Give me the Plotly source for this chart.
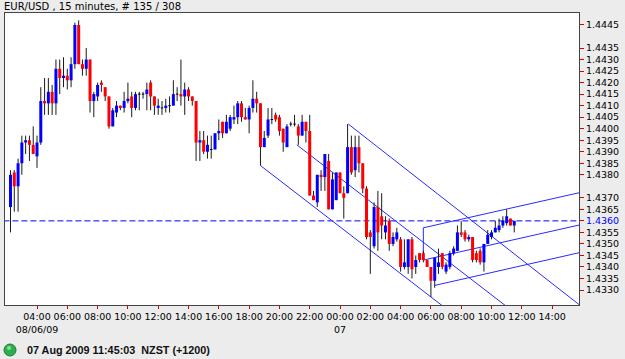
import plotly.graph_objects as go
import pandas as pd

# ---------------- data ----------------
start_time = "2009-08-06 02:15"
opens = [1.4366, 1.4381, 1.4375, 1.4385, 1.4394, 1.4395, 1.4393, 1.4388, 1.4394, 1.4412,
         1.4411, 1.4416, 1.4411, 1.4426, 1.4422, 1.4423, 1.4421, 1.4428, 1.4445, 1.4428,
         1.4426, 1.4430, 1.4412, 1.4414, 1.4420, 1.4418, 1.4414, 1.4401, 1.4407, 1.4410,
         1.4409, 1.4412, 1.4414, 1.4409, 1.4415, 1.4415, 1.4415, 1.4420, 1.4414, 1.4409,
         1.4409, 1.4409, 1.4410, 1.4410, 1.4415, 1.4415, 1.4414, 1.4417, 1.4414, 1.4412,
         1.4394, 1.4395, 1.4390, 1.4391, 1.4391, 1.4398, 1.4403, 1.4398, 1.4400, 1.4404,
         1.4405, 1.4411, 1.4405, 1.4404, 1.4409, 1.4413, 1.4411, 1.4392, 1.4397, 1.4404,
         1.4406, 1.4405, 1.4400, 1.4392, 1.4402, 1.4402, 1.4401, 1.4397, 1.4403, 1.4399,
         1.4371, 1.4368, 1.4380, 1.4379, 1.4386, 1.4365, 1.4369, 1.4381, 1.4372, 1.4372,
         1.4392, 1.4382, 1.4392, 1.4385, 1.4374, 1.4355, 1.4349, 1.4366, 1.4362, 1.4355,
         1.4360, 1.4350, 1.4352, 1.4352, 1.4340, 1.4340, 1.4352, 1.4340, 1.4346, 1.4346,
         1.4343, 1.4340, 1.4334, 1.4340, 1.4346, 1.4338, 1.4340, 1.4346, 1.4347, 1.4355,
         1.4355, 1.4352, 1.4353, 1.4346, 1.4347, 1.4342, 1.4350, 1.4353, 1.4355, 1.4356,
         1.4358, 1.4359, 1.4361, 1.4358]
highs = [1.4382, 1.4382, 1.4387, 1.4397, 1.4397, 1.4397, 1.4401, 1.4397, 1.4418, 1.4422,
         1.4422, 1.4419, 1.4430, 1.4430, 1.4431, 1.4426, 1.4431, 1.4446, 1.4447, 1.4430,
         1.4435, 1.4430, 1.4416, 1.4420, 1.4421, 1.4418, 1.4414, 1.4409, 1.4412, 1.4410,
         1.4416, 1.4420, 1.4416, 1.4416, 1.4416, 1.4416, 1.4420, 1.4421, 1.4414, 1.4413,
         1.4412, 1.4413, 1.4414, 1.4421, 1.4418, 1.4430, 1.4420, 1.4418, 1.4414, 1.4412,
         1.4399, 1.4399, 1.4397, 1.4397, 1.4398, 1.4404, 1.4403, 1.4406, 1.4406, 1.4410,
         1.4412, 1.4412, 1.4409, 1.4410, 1.4421, 1.4416, 1.4411, 1.4399, 1.4409, 1.4409,
         1.4407, 1.4406, 1.4400, 1.4402, 1.4403, 1.4406, 1.4402, 1.4406, 1.4403, 1.4406,
         1.4373, 1.4380, 1.4382, 1.4389, 1.4389, 1.4381, 1.4381, 1.4381, 1.4375, 1.4402,
         1.4397, 1.4397, 1.4397, 1.4385, 1.4375, 1.4356, 1.4368, 1.4373, 1.4372, 1.4362,
         1.4361, 1.4355, 1.4357, 1.4353, 1.4352, 1.4352, 1.4353, 1.4345, 1.4346, 1.4347,
         1.4343, 1.4340, 1.4344, 1.4348, 1.4346, 1.4342, 1.4347, 1.4349, 1.4358, 1.4360,
         1.4356, 1.4354, 1.4353, 1.4347, 1.4348, 1.4350, 1.4356, 1.4356, 1.4360, 1.4361,
         1.4362, 1.4365, 1.4361, 1.4360]
lows = [1.4355, 1.4364, 1.4364, 1.4380, 1.4389, 1.4386, 1.4389, 1.4383, 1.4393, 1.4406,
        1.4406, 1.4406, 1.4406, 1.4415, 1.4418, 1.4417, 1.4418, 1.4426, 1.4428, 1.4423,
        1.4423, 1.4407, 1.4405, 1.4412, 1.4416, 1.4412, 1.4400, 1.4401, 1.4405, 1.4408,
        1.4407, 1.4411, 1.4405, 1.4408, 1.4408, 1.4413, 1.4408, 1.4408, 1.4406, 1.4406,
        1.4406, 1.4407, 1.4407, 1.4410, 1.4412, 1.4410, 1.4406, 1.4412, 1.4410, 1.4386,
        1.4386, 1.4389, 1.4387, 1.4387, 1.4391, 1.4395, 1.4396, 1.4398, 1.4399, 1.4402,
        1.4402, 1.4403, 1.4404, 1.4398, 1.4407, 1.4407, 1.4384, 1.4392, 1.4396, 1.4402,
        1.4403, 1.4397, 1.4390, 1.4392, 1.4401, 1.4401, 1.4393, 1.4397, 1.4394, 1.4371,
        1.4369, 1.4366, 1.4373, 1.4373, 1.4365, 1.4365, 1.4369, 1.4372, 1.4361, 1.4372,
        1.4380, 1.4379, 1.4381, 1.4372, 1.4352, 1.4337, 1.4348, 1.4347, 1.4352, 1.4352,
        1.4347, 1.4349, 1.4351, 1.4338, 1.4339, 1.4337, 1.4335, 1.4337, 1.4342, 1.4342,
        1.4340, 1.4327, 1.4331, 1.4337, 1.4339, 1.4337, 1.4339, 1.4345, 1.4347, 1.4353,
        1.4351, 1.4351, 1.4342, 1.4342, 1.4341, 1.4338, 1.4350, 1.4352, 1.4355, 1.4355,
        1.4357, 1.4358, 1.4358, 1.4355]
closes = [1.4380, 1.4375, 1.4385, 1.4394, 1.4395, 1.4393, 1.4389, 1.4394, 1.4412, 1.4411,
          1.4416, 1.4411, 1.4426, 1.4422, 1.4423, 1.4421, 1.4428, 1.4445, 1.4428, 1.4426,
          1.4430, 1.4412, 1.4415, 1.4419, 1.4419, 1.4414, 1.4401, 1.4408, 1.4410, 1.4409,
          1.4412, 1.4413, 1.4409, 1.4415, 1.4415, 1.4415, 1.4417, 1.4414, 1.4410, 1.4410,
          1.4409, 1.4410, 1.4410, 1.4415, 1.4415, 1.4414, 1.4417, 1.4414, 1.4412, 1.4394,
          1.4395, 1.4390, 1.4393, 1.4391, 1.4398, 1.4399, 1.4398, 1.4403, 1.4405, 1.4405,
          1.4411, 1.4405, 1.4404, 1.4409, 1.4413, 1.4411, 1.4392, 1.4396, 1.4404, 1.4404,
          1.4404, 1.4399, 1.4394, 1.4401, 1.4402, 1.4402, 1.4397, 1.4403, 1.4399, 1.4371,
          1.4369, 1.4380, 1.4379, 1.4389, 1.4365, 1.4378, 1.4381, 1.4372, 1.4370, 1.4392,
          1.4381, 1.4392, 1.4385, 1.4374, 1.4353, 1.4353, 1.4366, 1.4355, 1.4358, 1.4358,
          1.4350, 1.4353, 1.4355, 1.4340, 1.4342, 1.4352, 1.4339, 1.4343, 1.4343, 1.4343,
          1.4340, 1.4334, 1.4344, 1.4342, 1.4340, 1.4341, 1.4346, 1.4348, 1.4355, 1.4354,
          1.4352, 1.4353, 1.4343, 1.4343, 1.4342, 1.4350, 1.4354, 1.4355, 1.4357, 1.4358,
          1.4360, 1.4362, 1.4358, 1.4360]

bid_price = 1.4360

# drawn trend channels (start/end time and price)
down_t0 = ["2009-08-06 18:45", "2009-08-06 21:09", "2009-08-07 00:33"]
down_p0 = [1.4384, 1.4393, 1.4402]
down_t1 = ["2009-08-07 09:45", "2009-08-07 12:09", "2009-08-07 18:03"]
down_p1 = [1.4308, 1.4317, 1.4312]
up_t0 = ["2009-08-07 05:30", "2009-08-07 05:30", "2009-08-07 06:15"]
up_p0 = [1.4357, 1.4343, 1.4332]
up_t1 = ["2009-08-07 17:00", "2009-08-07 17:00", "2009-08-07 17:00"]
up_p1 = [1.4374, 1.4360, 1.4348]

y_ticks = [1.4445, 1.4435, 1.4430, 1.4425, 1.4420, 1.4415, 1.4410, 1.4405, 1.4400,
           1.4395, 1.4390, 1.4385, 1.4380, 1.4370, 1.4365, 1.4360, 1.4355, 1.4350,
           1.4345, 1.4340, 1.4335, 1.4330]
x_tick_times = ["2009-08-06 04:00", "2009-08-06 06:00", "2009-08-06 08:00", "2009-08-06 10:00",
                "2009-08-06 12:00", "2009-08-06 14:00", "2009-08-06 16:00", "2009-08-06 18:00",
                "2009-08-06 20:00", "2009-08-06 22:00", "2009-08-07 00:00", "2009-08-07 02:00",
                "2009-08-07 04:00", "2009-08-07 06:00", "2009-08-07 08:00", "2009-08-07 10:00",
                "2009-08-07 12:00", "2009-08-07 14:00"]
x_tick_labels = ["04:00<br>08/06/09", "06:00", "08:00", "10:00", "12:00", "14:00", "16:00",
                 "18:00", "20:00", "22:00", "00:00<br>07", "02:00", "04:00", "06:00",
                 "08:00", "10:00", "12:00", "14:00"]

title_text = "EUR/USD , 15 minutes, # 135 / 308"
status_text = "07 Aug 2009 11:45:03\u00a0\u00a0NZST (+1200)"

# ---------------- layout constants ----------------
W, H = 625, 359
ML, MT, MR, MB = 5, 13, 46, 54
PW = W - ML - MR
PH = H - MT - MB
FONT = "DejaVu Sans"
BLUE = "#0000ff"
RED = "#ff0000"


def px_x(x):
    return (x - ML) / PW


def px_y(y):
    return (H - MB - y) / PH


times = pd.date_range(start_time, periods=len(opens), freq="15min")
half = pd.Timedelta(minutes=5)

wx, wy = [], []
ux, uy, dx, dy, zx, zy = [], [], [], [], [], []
for t, o, h, l, c in zip(times, opens, highs, lows, closes):
    wx += [t, t, None]
    wy += [l, h, None]
    if c > o:
        ux += [t, t, None]
        uy += [o, c, None]
    elif c < o:
        dx += [t, t, None]
        dy += [o, c, None]
    else:
        zx += [t - half, t + half, None]
        zy += [o, c, None]

fig = go.Figure()

# bid line
fig.add_trace(go.Scatter(x=["2009-08-06 00:00", "2009-08-07 18:00"], y=[bid_price, bid_price],
                         mode="lines", line=dict(color=BLUE, width=1, dash="6px,3px"),
                         hoverinfo="skip"))

# channels
for t0, p0, t1, p1 in zip(down_t0, down_p0, down_t1, down_p1):
    fig.add_trace(go.Scatter(x=[t0, t1], y=[p0, p1], mode="lines",
                             line=dict(color="#2a2aff", width=1), hoverinfo="skip"))
for t0, p0, t1, p1 in zip(up_t0, up_p0, up_t1, up_p1):
    fig.add_trace(go.Scatter(x=[t0, t1], y=[p0, p1], mode="lines",
                             line=dict(color="#2a2aff", width=1), hoverinfo="skip"))
fig.add_trace(go.Scatter(x=[up_t0[0], up_t0[1]], y=[up_p0[0], up_p0[1]], mode="lines",
                         line=dict(color="#2a2aff", width=1), hoverinfo="skip"))

# wicks
fig.add_trace(go.Scatter(x=wx, y=wy, mode="lines", line=dict(color="#1a1a1a", width=1),
                         connectgaps=False, hoverinfo="skip"))
# bodies
fig.add_trace(go.Scatter(x=ux, y=uy, mode="lines", line=dict(color=BLUE, width=3),
                         connectgaps=False, hoverinfo="skip"))
fig.add_trace(go.Scatter(x=dx, y=dy, mode="lines", line=dict(color=RED, width=3),
                         connectgaps=False, hoverinfo="skip"))
fig.add_trace(go.Scatter(x=zx, y=zy, mode="lines", line=dict(color="#000000", width=1),
                         connectgaps=False, hoverinfo="skip"))

ytext = []
for v in y_ticks:
    s = f"{v:.4f}"
    if abs(v - bid_price) < 1e-9:
        s = f'<span style="color:{BLUE}">{s}</span>'
    ytext.append(s)

fig.update_layout(
    width=W, height=H,
    margin=dict(l=ML, r=MR, t=MT, b=MB, pad=0),
    paper_bgcolor="#ececec",
    plot_bgcolor="#ffffff",
    showlegend=False,
    font=dict(family=FONT, size=9.5, color="#000000"),
    xaxis=dict(
        type="date",
        range=["2009-08-06 01:53:15", "2009-08-07 15:46:30"],
        tickmode="array", tickvals=x_tick_times, ticktext=x_tick_labels,
        tickangle=0,
        ticks="outside", ticklen=3, tickcolor="#dd0000", tickwidth=1,
        showgrid=False, zeroline=False,
        showline=True, linecolor="#444444", linewidth=1, mirror=True,
        tickfont=dict(family=FONT, size=9.5, color="#000000"),
        fixedrange=True,
    ),
    yaxis=dict(
        side="right",
        range=[1.43235, 1.44502],
        tickmode="array", tickvals=y_ticks, ticktext=ytext,
        ticks="outside", ticklen=4, tickcolor="#dd0000", tickwidth=1,
        showgrid=False, zeroline=False,
        showline=True, linecolor="#444444", linewidth=1, mirror=True,
        tickfont=dict(family=FONT, size=9.5, color="#000000"),
        fixedrange=True,
    ),
)

fig.add_annotation(text=title_text, xref="paper", yref="paper", x=px_x(2), y=px_y(7),
                   xanchor="left", yanchor="middle", showarrow=False,
                   font=dict(family=FONT, size=10, color="#000000"))
fig.add_annotation(text="<b>" + status_text + "</b>", xref="paper", yref="paper",
                   x=px_x(25), y=px_y(350), xanchor="left", yanchor="middle", showarrow=False,
                   font=dict(family="Liberation Sans", size=10.8, color="#111111"))
fig.add_shape(type="circle", xref="paper", yref="paper",
              x0=px_x(4), x1=px_x(16), y0=px_y(356), y1=px_y(344),
              fillcolor="#2fae4f", line=dict(color="#1d7a36", width=1))
fig.add_shape(type="circle", xref="paper", yref="paper",
              x0=px_x(7), x1=px_x(11), y0=px_y(350), y1=px_y(346),
              fillcolor="#7fe09a", line=dict(width=0))

fig.write_html("out.html")
